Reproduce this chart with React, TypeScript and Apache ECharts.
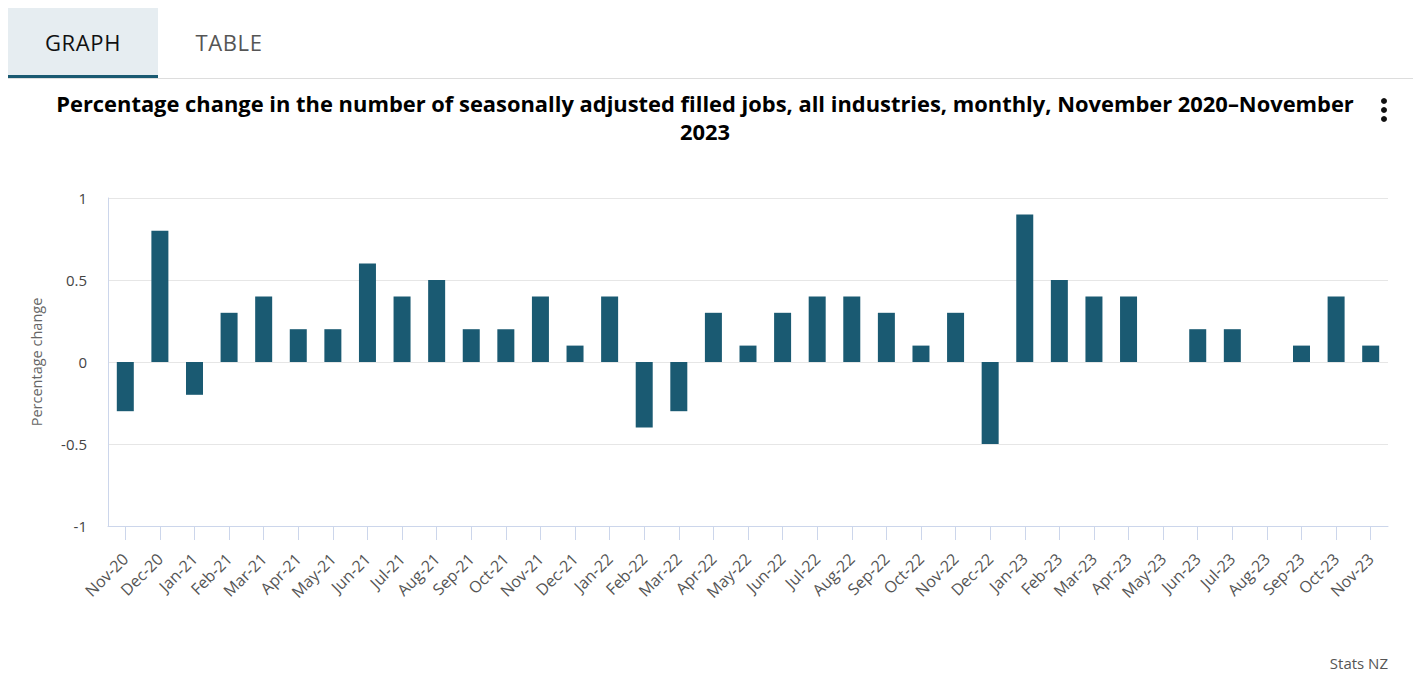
import React, { useEffect, useRef } from "react";
import * as echarts from "echarts";

const categories = [
  "Nov-20", "Dec-20", "Jan-21", "Feb-21", "Mar-21", "Apr-21", "May-21", "Jun-21", "Jul-21", "Aug-21",
  "Sep-21", "Oct-21", "Nov-21", "Dec-21", "Jan-22", "Feb-22", "Mar-22", "Apr-22", "May-22", "Jun-22",
  "Jul-22", "Aug-22", "Sep-22", "Oct-22", "Nov-22", "Dec-22", "Jan-23", "Feb-23", "Mar-23", "Apr-23",
  "May-23", "Jun-23", "Jul-23", "Aug-23", "Sep-23", "Oct-23", "Nov-23",
];

const percentChange = [
  -0.3, 0.8, -0.2, 0.3, 0.4, 0.2, 0.2, 0.6, 0.4, 0.5,
  0.2, 0.2, 0.4, 0.1, 0.4, -0.4, -0.3, 0.3, 0.1, 0.3,
  0.4, 0.4, 0.3, 0.1, 0.3, -0.5, 0.9, 0.5, 0.4, 0.4,
  0, 0.2, 0.2, 0, 0.1, 0.4, 0.1,
];

const titleText =
  "Percentage change in the number of seasonally adjusted filled jobs, all industries, monthly, November 2020–November\n2023";
const yAxisName = "Percentage change";
const creditText = "Stats NZ";

const FONT = "'Open Sans', 'Noto Sans', sans-serif";

export default function App() {
  const ref = useRef<HTMLDivElement>(null);

  useEffect(() => {
    if (!ref.current) return;
    const chart = echarts.init(ref.current, undefined, { renderer: "svg" });
    chart.setOption({
      animation: false,
      textStyle: { fontFamily: FONT },
      title: {
        text: titleText,
        left: 700,
        textAlign: "center",
        top: 84,
        textStyle: {
          fontFamily: FONT,
          fontSize: 21.9,
          fontWeight: "bold",
          color: "#000",
          lineHeight: 28,
        },
      },
      grid: { left: 108, right: 33, top: 198, bottom: 157 },
      xAxis: {
        type: "category",
        data: categories,
        axisLine: { show: true, onZero: false, lineStyle: { color: "#ccd6eb", width: 1 } },
        axisTick: { show: true, alignWithLabel: true, length: 14, lineStyle: { color: "#ccd6eb" } },
        axisLabel: {
          rotate: 45,
          margin: 30,
          interval: 0,
          color: "#555",
          fontSize: 16,
          fontFamily: FONT,
        },
        splitLine: { show: false },
      },
      yAxis: {
        type: "value",
        min: -1,
        max: 1,
        interval: 0.5,
        name: yAxisName,
        nameLocation: "middle",
        nameRotate: 90,
        nameGap: 64,
        nameTextStyle: { color: "#666", fontSize: 14.5, fontFamily: FONT },
        axisLine: { show: true, lineStyle: { color: "#ccd6eb" } },
        axisTick: { show: false },
        axisLabel: { color: "#444", fontSize: 15, margin: 21, fontFamily: FONT },
        splitLine: { show: true, lineStyle: { color: "#e6e6e6", width: 1 } },
      },
      series: [
        {
          type: "bar",
          data: percentChange,
          barWidth: 17,
          itemStyle: { color: "#1a5a72" },
        },
      ],
      graphic: [
        { type: "circle", shape: { cx: 1384, cy: 101, r: 3 }, style: { fill: "#111" } },
        { type: "circle", shape: { cx: 1384, cy: 110, r: 3 }, style: { fill: "#111" } },
        { type: "circle", shape: { cx: 1384, cy: 119, r: 3 }, style: { fill: "#111" } },
        {
          type: "text",
          right: 33,
          top: 655,
          style: { text: creditText, fill: "#555", fontSize: 15, fontFamily: FONT },
        },
      ],
    });
    return () => chart.dispose();
  }, []);

  return (
    <div style={{ position: "fixed", left: 0, top: 0, width: 1421, height: 683, background: "#fff" }}>
      <div ref={ref} style={{ position: "absolute", left: 0, top: 0, width: 1421, height: 683 }} />
      <div
        style={{
          position: "absolute",
          left: 8,
          top: 78,
          width: 1405,
          height: 1,
          background: "#dddddd",
        }}
      />
      <div
        style={{
          position: "absolute",
          left: 8,
          top: 8,
          width: 150,
          height: 67,
          background: "#e6edf1",
          borderBottom: "3px solid #1a5a72",
          display: "flex",
          alignItems: "center",
          justifyContent: "center",
          fontFamily: FONT,
          fontSize: 22,
          letterSpacing: 0.6,
          color: "#111",
        }}
      >
        GRAPH
      </div>
      <div
        style={{
          position: "absolute",
          left: 158,
          top: 8,
          width: 142,
          height: 67,
          display: "flex",
          alignItems: "center",
          justifyContent: "center",
          fontFamily: FONT,
          fontSize: 22,
          letterSpacing: 0.6,
          color: "#555",
        }}
      >
        TABLE
      </div>
    </div>
  );
}
